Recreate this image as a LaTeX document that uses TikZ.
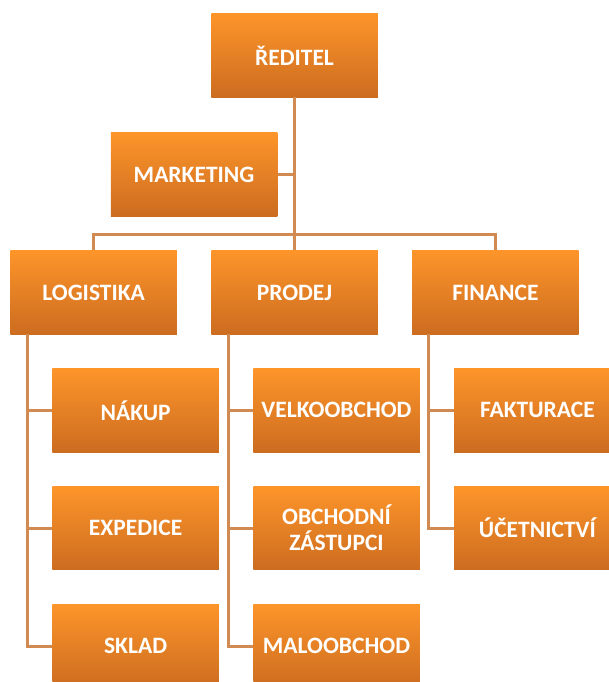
\documentclass[tikz,border=0pt]{standalone}
\usepackage{fontspec}
\setmainfont{Carlito}
\usepackage{tikz}
\usetikzlibrary{positioning,calc}

\definecolor{boxtop}{RGB}{253,149,42}
\definecolor{boxbot}{RGB}{204,108,32}
\definecolor{linkcol}{RGB}{208,138,82}

\begin{document}
\begin{tikzpicture}[
    x=1pt, y=-1pt,
    font=\fontsize{23.5}{26}\selectfont\bfseries,
    unit/.style={top color=boxtop, bottom color=boxbot, text=white, align=center, inner sep=2pt,
                 minimum width=166.5pt, minimum height=83.5pt},
    link/.style={draw=linkcol, line width=3pt}
]
\clip (0,0) rectangle (609,682);

\node[unit] (reditel) at (294.5,55.5) {ŘEDITEL};
\node[unit, below left=35pt and 17pt of reditel.south] (marketing) {MARKETING};
\node[unit, below=153pt of reditel] (prodej) {PRODEJ};
\node[unit, left=34pt of prodej] (logistika) {LOGISTIKA};
\node[unit, right=34pt of prodej] (finance) {FINANCE};

% podrizene utvary
\node[unit, below=34pt of logistika.south west, anchor=north west, xshift=42pt] (nakup) {NÁKUP};
\node[unit, below=34pt of nakup] (expedice) {EXPEDICE};
\node[unit, below=34pt of expedice] (sklad) {SKLAD};
\node[unit, below=34pt of prodej.south west, anchor=north west, xshift=42pt] (velkoobchod) {VELKOOBCHOD};
\node[unit, below=34pt of velkoobchod] (zastupci) {OBCHODNÍ\\ZÁSTUPCI};
\node[unit, below=34pt of zastupci] (maloobchod) {MALOOBCHOD};
\node[unit, below=34pt of finance.south west, anchor=north west, xshift=42pt] (fakturace) {FAKTURACE};
\node[unit, below=34pt of fakturace] (ucetnictvi) {ÚČETNICTVÍ};

\coordinate (bar) at (294.5,234);

\draw[link] (reditel.south) -- (bar);
\draw[link] (marketing.east) -- (marketing.east -| reditel.south);
\draw[link] (logistika.north) |- (bar) -| (finance.north);
\draw[link] (prodej.north) -- (bar);
\foreach \p/\c in {logistika/nakup, logistika/expedice, logistika/sklad,
                   prodej/velkoobchod, prodej/zastupci, prodej/maloobchod,
                   finance/fakturace, finance/ucetnictvi}
  \draw[link] ([xshift=17pt]\p.south west) |- (\c.west);
\end{tikzpicture}
\end{document}
